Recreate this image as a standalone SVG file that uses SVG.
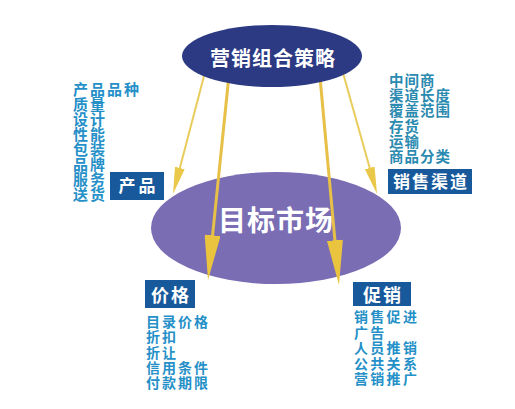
<svg xmlns="http://www.w3.org/2000/svg" width="515" height="409" viewBox="0 0 515 409">
<style>
.lst{font-family:"Noto Sans CJK SC","Noto Sans",sans-serif;font-size:14.5px;font-weight:bold;fill:#2590c8}
.l1{font-size:15px;letter-spacing:2px}
.l2{letter-spacing:1px;fill:#2a8ab0}
.l3{font-size:14px;letter-spacing:2px}
.l4{font-size:14px;letter-spacing:2.3px}
.box{fill:#17599b}
.bt{font-family:"Noto Sans CJK SC","Noto Sans",sans-serif;font-size:17px;font-weight:bold;fill:#ffffff;text-anchor:middle}
.big{stroke:#e6c047;stroke-width:3;fill:none}
.thin{stroke:#e8cc5c;stroke-width:2;fill:none}
</style>
<defs>
<marker id="ahb" viewBox="0 0 45 16" refX="25" refY="8" markerWidth="45" markerHeight="16" markerUnits="userSpaceOnUse" orient="auto">
<path d="M0,0 L45,8 L0,16 Z" fill="#eac43f"/>
</marker>
<marker id="ahs" viewBox="0 0 27 10" refX="15" refY="5" markerWidth="27" markerHeight="10" markerUnits="userSpaceOnUse" orient="auto">
<path d="M0,0 L27,5 L0,10 Z" fill="#eac84a"/>
</marker>
</defs>
<rect width="515" height="409" fill="#ffffff"/>
<g id="target-market">
<ellipse cx="276" cy="228" rx="125" ry="56" fill="#7a6db3"/>
<text x="276" y="231" font-family="'Noto Sans CJK SC','Noto Sans',sans-serif" font-size="28" font-weight="bold" fill="#ffffff" text-anchor="middle" letter-spacing="1">目标市场</text>
</g>
<g id="connectors">
<line class="thin" x1="205.6" y1="70" x2="176.05" y2="182.4" marker-end="url(#ahs)"/>
<line class="big" x1="229" y1="75" x2="210.04" y2="260.1" marker-end="url(#ahb)"/>
<line class="big" x1="320" y1="77" x2="337.2" y2="265.1" marker-end="url(#ahb)"/>
<line class="thin" x1="342.2" y1="70" x2="373.8" y2="182.4" marker-end="url(#ahs)"/>
</g>
<g id="marketing-mix">
<ellipse cx="272" cy="56" rx="90" ry="31" fill="#2c3a84"/>
<text x="273" y="66" font-family="'Noto Sans CJK SC','Noto Sans',sans-serif" font-size="20" font-weight="bold" fill="#ffffff" text-anchor="middle" letter-spacing="1">营销组合策略</text>
</g>
<g id="product">
<rect class="box" x="110" y="172" width="54" height="28"/>
<text class="bt" x="138.5" y="192" letter-spacing="3">产品</text>
<text class="lst l1" x="73" y="95">产品品种</text>
<text class="lst l1" x="73" y="110">质量</text>
<text class="lst l1" x="73" y="125">设计</text>
<text class="lst l1" x="73" y="140">性能</text>
<text class="lst l1" x="73" y="155">包装</text>
<text class="lst l1" x="73" y="170">品牌</text>
<text class="lst l1" x="73" y="185">服务</text>
<text class="lst l1" x="73" y="200">送货</text>
</g>
<g id="channel">
<rect class="box" x="388" y="169" width="84" height="25"/>
<text class="bt" x="431" y="188" letter-spacing="2">销售渠道</text>
<text class="lst l2" x="389" y="86">中间商</text>
<text class="lst l2" x="389" y="101.2">渠道长度</text>
<text class="lst l2" x="389" y="116.4">覆盖范围</text>
<text class="lst l2" x="389" y="131.6">存货</text>
<text class="lst l2" x="389" y="146.8">运输</text>
<text class="lst l2" x="389" y="162">商品分类</text>
</g>
<g id="price">
<rect class="box" x="145" y="280" width="50" height="28"/>
<text class="bt" x="171" y="302" letter-spacing="2" style="font-size:18px">价格</text>
<text class="lst l3" x="146" y="327">目录价格</text>
<text class="lst l3" x="146" y="342.3">折扣</text>
<text class="lst l3" x="146" y="357.6">折让</text>
<text class="lst l3" x="146" y="372.9">信用条件</text>
<text class="lst l3" x="146" y="388.2">付款期限</text>
</g>
<g id="promotion">
<rect class="box" x="353" y="282" width="58" height="24"/>
<text class="bt" x="383" y="302" letter-spacing="2" style="font-size:18px">促销</text>
<text class="lst l4" x="354" y="322">销售促进</text>
<text class="lst l4" x="354" y="337.5">广告</text>
<text class="lst l4" x="354" y="353">人员推销</text>
<text class="lst l4" x="354" y="368.5">公共关系</text>
<text class="lst l4" x="354" y="384">营销推广</text>
</g>
</svg>
